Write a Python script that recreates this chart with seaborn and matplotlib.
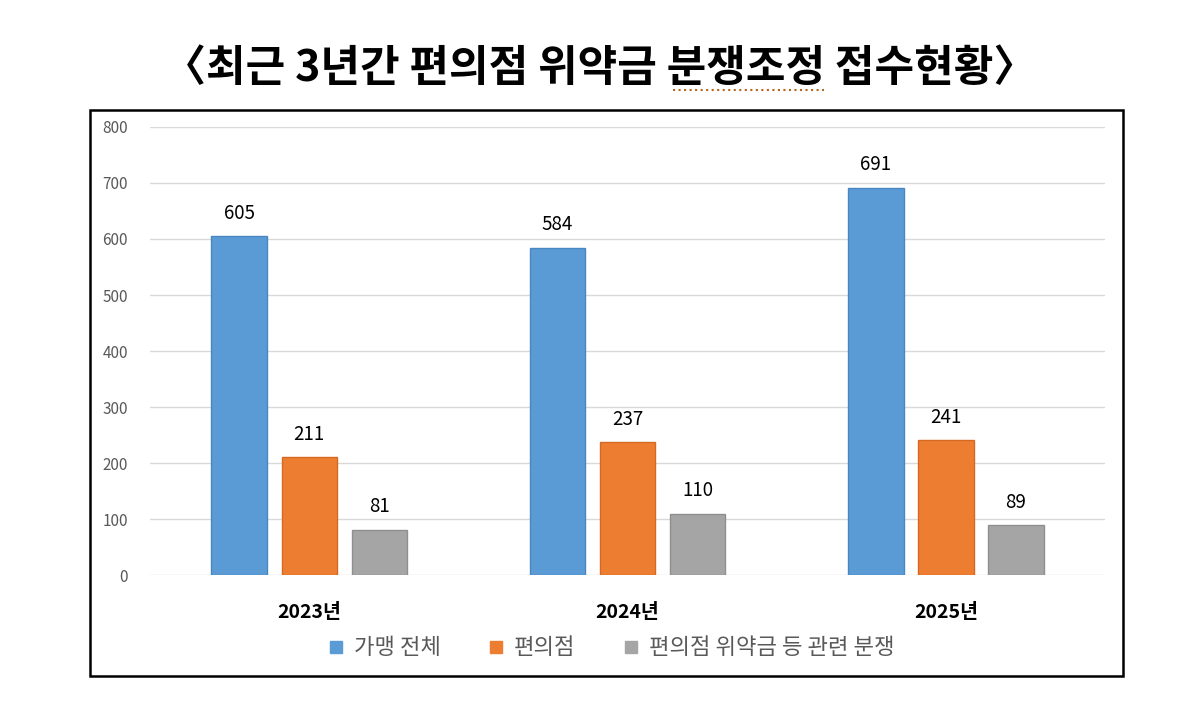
import pandas as pd
import matplotlib.pyplot as plt
import seaborn as sns
from matplotlib.patches import Rectangle
from matplotlib.lines import Line2D

sns.set_style("white")
plt.rcParams['font.family'] = ['Noto Sans CJK KR', 'DejaVu Sans']
plt.rcParams['text.color'] = 'black'

# data
years = ['2023년', '2024년', '2025년']
series = ['가맹 전체', '편의점', '편의점 위약금 등 관련 분쟁']
total = [605, 584, 691]
store = [211, 237, 241]
penalty = [81, 110, 89]
colors = ['#5B9BD5', '#ED7D31', '#A5A5A5']
edges = ['#4A87C0', '#D46A22', '#8F8F8F']

df = pd.DataFrame({
    'year': years * 3,
    'series': [series[0]] * 3 + [series[1]] * 3 + [series[2]] * 3,
    'value': total + store + penalty,
})

fig = plt.figure(figsize=(12, 7.05), dpi=100)
ax = fig.add_axes([0.125, 0.184, 0.796, 0.636])

sns.barplot(data=df, x='year', y='value', hue='series', hue_order=series,
            palette=colors, saturation=1, width=0.66, gap=0.21, ax=ax,
            legend=False)

for cont, ec in zip(ax.containers, edges):
    for bar in cont:
        bar.set_edgecolor(ec)
        bar.set_linewidth(1)
    ax.bar_label(cont, padding=9, fontsize=13.5, color='black')

ax.set_ylim(0, 800)
ax.set_xlim(-0.5, 2.5)
ax.set_yticks(range(0, 801, 100))
ax.yaxis.grid(True, color='#D9D9D9', linewidth=1)
ax.set_axisbelow(True)
sns.despine(ax=ax, left=True, bottom=True)
ax.tick_params(axis='y', length=0, pad=16, labelsize=11, labelcolor='#595959')
ax.tick_params(axis='x', length=0, pad=20, labelsize=14, labelcolor='black')
for lbl in ax.get_xticklabels():
    lbl.set_fontweight('bold')
ax.set_xlabel('')
ax.set_ylabel('')

# legend under the axis
handles = [Line2D([], [], marker='s', linestyle='', markersize=9,
                  markerfacecolor=c, markeredgecolor=c) for c in colors]
fig.legend(handles, series, loc='center', bbox_to_anchor=(0.508, 0.081),
           ncol=3, frameon=False, fontsize=16, labelcolor='#595959',
           handletextpad=0.3, columnspacing=2.0, handlelength=1.0)

# frame around chart
fig.add_artist(Rectangle((0.075, 0.041), 0.861, 0.803, transform=fig.transFigure,
                         fill=False, edgecolor='black', linewidth=1.8))

fig.text(0.5, 0.903, '〈최근 3년간 편의점 위약금 분쟁조정 접수현황〉',
         ha='center', va='center', fontsize=31, fontweight='bold', color='black')
# spell-check style dotted underline
fig.add_artist(Line2D([0.561, 0.687], [0.872, 0.872], transform=fig.transFigure,
                      color='#B5651D', linestyle=':', linewidth=1.5))

fig.savefig('out.png', dpi=100)
